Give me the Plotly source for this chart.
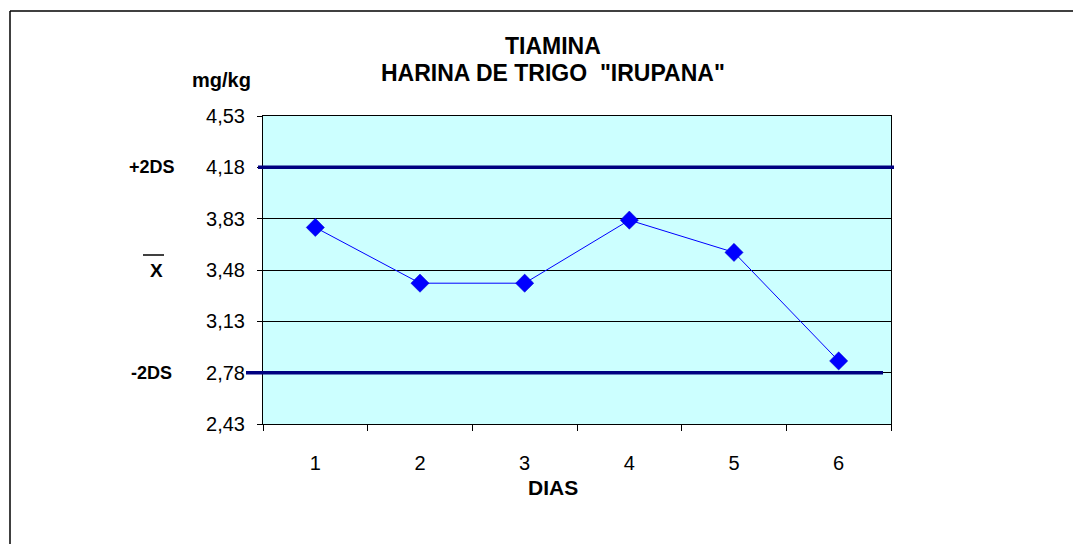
import plotly.graph_objects as go

days = ["1", "2", "3", "4", "5", "6"]
tiamina = [3.77, 3.39, 3.39, 3.82, 3.60, 2.86]
y_ticks = [2.43, 2.78, 3.13, 3.48, 3.83, 4.18, 4.53]
y_tick_text = ["2,43", "2,78", "3,13", "3,48", "3,83", "4,18", "4,53"]
upper_limit = 4.18
mean_value = 3.48
lower_limit = 2.78

FONT = "Liberation Sans, Arial, sans-serif"
W, H = 1081, 544
OFF = 8  # page body margin
L, R, T, B = 255, 198, 108, 128
pw, ph = W - L - R, H - T - B

def px(x):  # screen x -> paper x
    return (x - OFF - L) / pw

def py(y):  # screen y -> paper y
    return (H - B - (y - OFF)) / ph

fig = go.Figure()
fig.add_trace(go.Scatter(
    x=days, y=tiamina, mode="lines+markers",
    line=dict(color="#0000FF", width=1),
    marker=dict(symbol="diamond", size=14, color="#0000FF",
                line=dict(color="#0000CC", width=0.5)),
    showlegend=False, hoverinfo="x+y",
))

shapes = []
shapes.append(dict(type="line", xref="paper", yref="y", x0=px(258), x1=px(894),
                   y0=upper_limit, y1=upper_limit, line=dict(color="#000080", width=3.5), layer="above"))
shapes.append(dict(type="line", xref="paper", yref="y", x0=px(246), x1=px(883),
                   y0=lower_limit, y1=lower_limit, line=dict(color="#000080", width=3.5), layer="above"))
shapes.append(dict(type="line", xref="paper", yref="paper", x0=px(10), x1=px(W + 20),
                   y0=py(11), y1=py(11), line=dict(color="black", width=1.5)))
shapes.append(dict(type="line", xref="paper", yref="paper", x0=px(10), x1=px(10),
                   y0=py(11), y1=py(H + 20), line=dict(color="black", width=1.5)))
shapes.append(dict(type="line", xref="paper", yref="paper", x0=px(143), x1=px(164),
                   y0=py(255), y1=py(255), line=dict(color="black", width=1.5)))

def ann(text, x, y, size, yref="paper"):
    return dict(text=text, x=px(x), y=(py(y) if yref == "paper" else y), xref="paper", yref=yref,
                xanchor="center", yanchor="middle", showarrow=False,
                font=dict(size=size, color="black", family=FONT))

annotations = [
    ann("<b>TIAMINA</b>", 553, 46, 23),
    ann("<b>HARINA DE TRIGO  \"IRUPANA\"</b>", 553, 73, 23),
    ann("<b>mg/kg</b>", 221, 80, 20),
    ann("<b>+2DS</b>", 152, upper_limit, 18, yref="y"),
    ann("<b>X</b>", 156, mean_value, 19, yref="y"),
    ann("<b>-2DS</b>", 151, lower_limit, 18, yref="y"),
    ann("<b>DIAS</b>", 553, 487, 21),
]

fig.update_layout(
    width=W, height=H,
    margin=dict(l=L, r=R, t=T, b=B, pad=0),
    paper_bgcolor="white", plot_bgcolor="#CCFFFF",
    font=dict(family=FONT, color="black"),
    shapes=shapes, annotations=annotations,
    xaxis=dict(type="category", tickson="boundaries", ticks="outside", ticklen=6,
               tickcolor="black", showgrid=False, showline=True, linecolor="black",
               linewidth=1, mirror=True, tickfont=dict(size=20, color="black"),
               ticklabelstandoff=21, zeroline=False, range=[-0.5, 5.5]),
    yaxis=dict(range=[2.43, 4.53], tickvals=y_ticks, ticktext=y_tick_text,
               ticks="outside", ticklen=5, tickcolor="black",
               showgrid=True, gridcolor="black", gridwidth=1,
               showline=True, linecolor="black", linewidth=1, mirror=True,
               tickfont=dict(size=20, color="black"), ticklabelstandoff=8,
               zeroline=False),
)

fig.write_html("out.html")
